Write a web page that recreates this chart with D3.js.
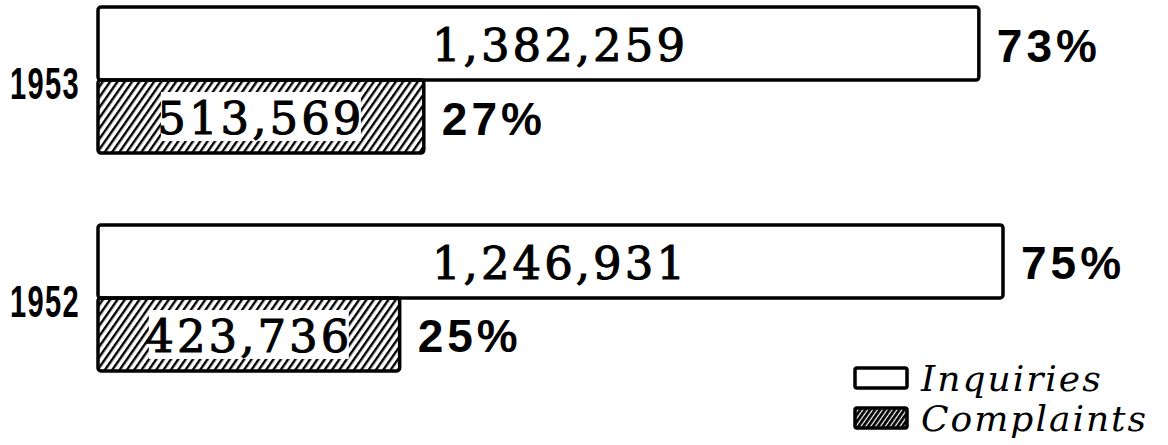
<!DOCTYPE html>
<html>
<head>
<meta charset="utf-8">
<script src="https://cdn.jsdelivr.net/npm/d3@7"></script>
<style>
  body { margin: 0; background: #fff; }
  svg { display: block; }
</style>
</head>
<body>
<div id="chart"></div>
<script>
// data
var years = ["1953", "1952"];
var series = ["Inquiries", "Complaints"];
var counts = { "1953": [1382259, 513569], "1952": [1246931, 423736] };
var shares = { "1953": [73, 27], "1952": [75, 25] };

var width = 1168, height = 445;

var svg = d3.select("#chart").append("svg")
    .attr("width", width)
    .attr("height", height);

// hatch patterns for the complaints bars
var defs = svg.append("defs");
defs.append("pattern")
    .attr("id", "hatch")
    .attr("patternUnits", "userSpaceOnUse")
    .attr("width", 6).attr("height", 6)
    .attr("patternTransform", "rotate(35)")
  .append("rect")
    .attr("x", 0).attr("y", 0)
    .attr("width", 2.4).attr("height", 6)
    .attr("fill", "#000");
defs.append("pattern")
    .attr("id", "hatchDense")
    .attr("patternUnits", "userSpaceOnUse")
    .attr("width", 4).attr("height", 4)
    .attr("patternTransform", "rotate(35)")
  .append("rect")
    .attr("x", 0).attr("y", 0)
    .attr("width", 2.8).attr("height", 4)
    .attr("fill", "#000");

var x = d3.scaleLinear().domain([0, 75]).range([98, 1003]);
var yYear = d3.scaleBand().domain(years).range([7, 371]).paddingInner(0.33);
var ySer = d3.scaleBand().domain(series).range([0, yYear.bandwidth()]);

var fmt = d3.format(",");

var rows = [];
years.forEach(function(yr) {
    series.forEach(function(s, i) {
        rows.push({ year: yr, series: s, count: counts[yr][i], share: shares[yr][i] });
    });
});

var g = svg.selectAll("g.year")
    .data(years).enter().append("g")
    .attr("class", "year")
    .attr("transform", function(d) { return "translate(0," + yYear(d) + ")"; });

// year labels, squeezed to look condensed
g.append("text")
    .attr("transform", "translate(45," + (ySer.bandwidth() + 4) + ") scale(0.66,1)")
    .attr("text-anchor", "middle")
    .attr("dominant-baseline", "central")
    .attr("font-family", "'Liberation Sans', Arial, sans-serif")
    .attr("font-weight", "bold")
    .attr("font-size", 44)
    .attr("letter-spacing", 2)
    .attr("fill", "#000")
    .text(function(d) { return d; });

var bar = g.selectAll("g.bar")
    .data(function(d) { return rows.filter(function(r) { return r.year === d; }); })
    .enter().append("g")
    .attr("class", "bar")
    .attr("transform", function(d) { return "translate(0," + ySer(d.series) + ")"; });

bar.append("rect")
    .attr("x", x(0))
    .attr("y", 0)
    .attr("width", function(d) { return x(d.share) - x(0); })
    .attr("height", ySer.bandwidth())
    .attr("rx", 3)
    .attr("fill", function(d) { return d.series === "Complaints" ? "url(#hatch)" : "#fff"; })
    .attr("stroke", "#000")
    .attr("stroke-width", 3.5);

// white panel behind the complaints numbers
bar.each(function(d) {
    if (d.series !== "Complaints") return;
    var cx = (x(0) + x(d.share)) / 2;
    d3.select(this).append("rect")
        .attr("x", cx - 100)
        .attr("y", 12)
        .attr("width", 200)
        .attr("height", ySer.bandwidth() - 24)
        .style("fill", "#ffffff");
});

bar.append("text")
    .attr("x", function(d) { return d.series === "Complaints" ? (x(0) + x(d.share)) / 2 : 560; })
    .attr("y", ySer.bandwidth() / 2 + 2)
    .attr("text-anchor", "middle")
    .attr("dominant-baseline", "central")
    .attr("font-family", "'DejaVu Serif', serif")
    .attr("font-size", 45)
    .attr("letter-spacing", 3)
    .attr("fill", "#000")
    .attr("stroke", "#000")
    .attr("stroke-width", 1)
    .text(function(d) { return fmt(d.count); });

bar.append("text")
    .attr("x", function(d) { return x(d.share) + 18; })
    .attr("y", ySer.bandwidth() / 2 + 2)
    .attr("dominant-baseline", "central")
    .attr("font-family", "'Liberation Sans', Arial, sans-serif")
    .attr("font-weight", "bold")
    .attr("font-size", 46)
    .attr("letter-spacing", 4)
    .attr("fill", "#000")
    .text(function(d) { return d.share + "%"; });

// legend
var legend = svg.selectAll("g.legend")
    .data(series).enter().append("g")
    .attr("class", "legend")
    .attr("transform", function(d, i) { return "translate(855," + (368 + i * 40) + ")"; });

legend.append("rect")
    .attr("x", 0).attr("y", 0)
    .attr("width", 52).attr("height", 20)
    .attr("rx", 2)
    .attr("fill", function(d) { return d === "Complaints" ? "url(#hatchDense)" : "#fff"; })
    .attr("stroke", "#000")
    .attr("stroke-width", 3.5);

legend.append("text")
    .attr("x", 66)
    .attr("y", 10)
    .attr("dominant-baseline", "central")
    .attr("font-family", "'DejaVu Serif', serif")
    .attr("font-style", "italic")
    .attr("font-size", 36)
    .attr("letter-spacing", 2)
    .attr("fill", "#000")
    .text(function(d) { return d; });
</script>
</body>
</html>
